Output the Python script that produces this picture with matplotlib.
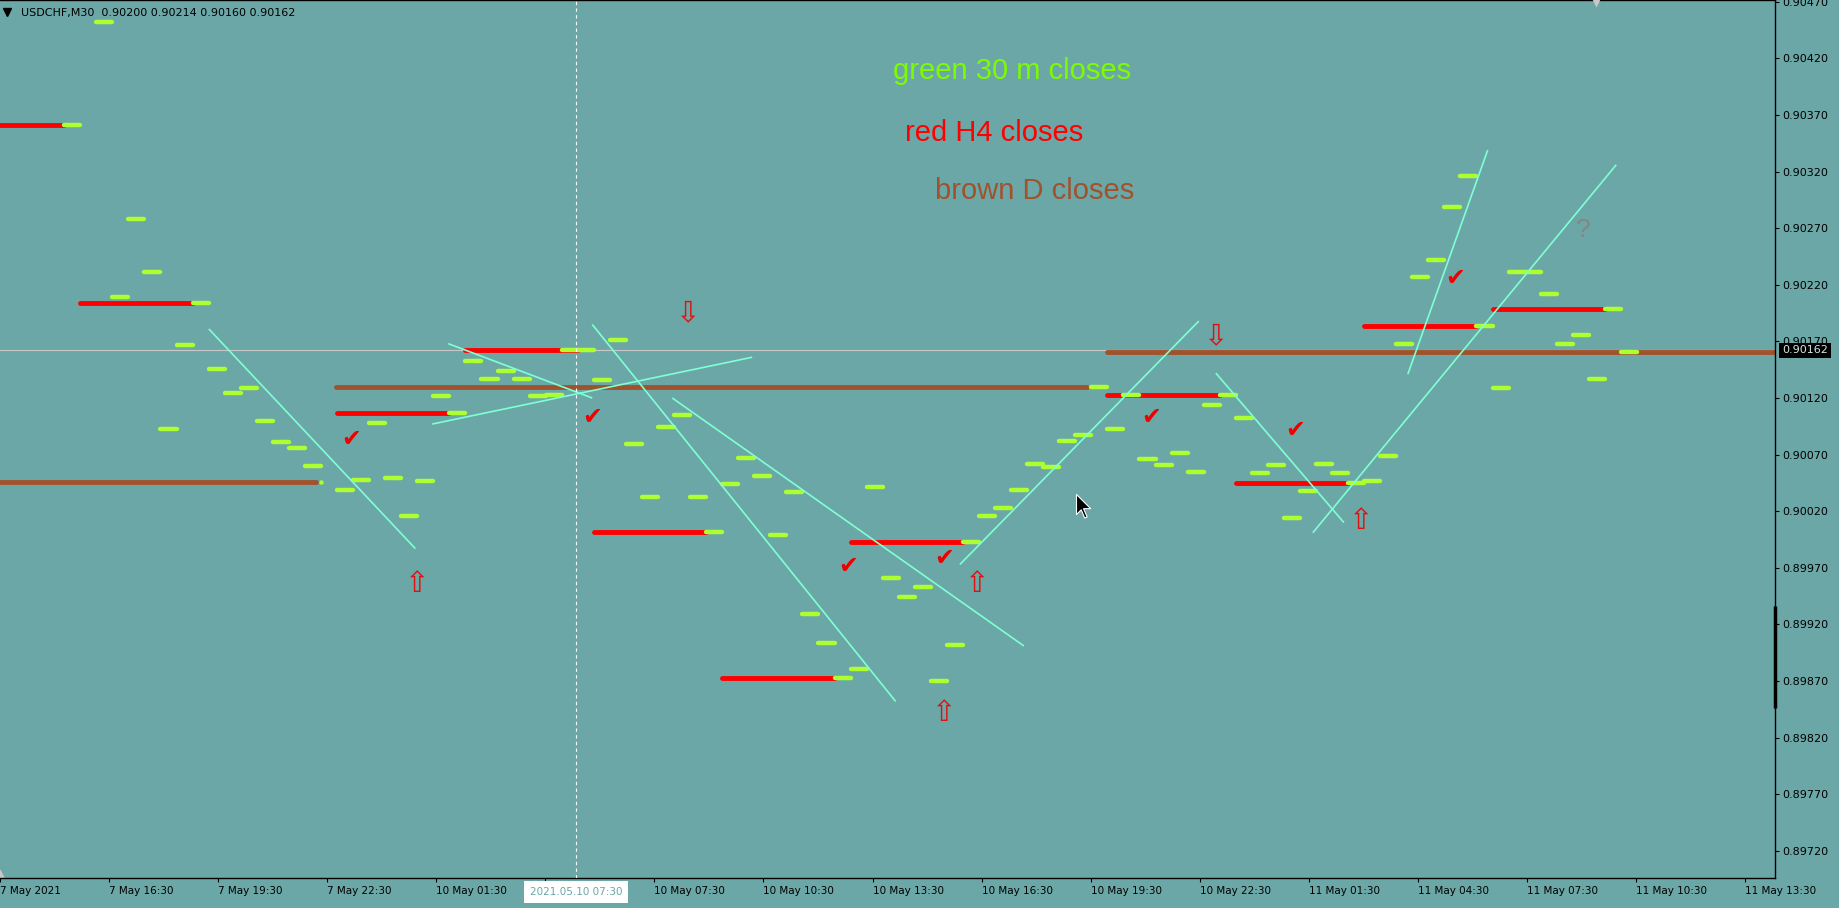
import numpy as np
import matplotlib.pyplot as plt
from matplotlib.collections import LineCollection
from matplotlib.path import Path

# ---- data (x = M30 bar slot, y = price) ----
m30_idx = [4, 6, 7, 8, 9, 10, 11, 12, 13, 14, 15, 16, 17, 18, 19,
           21, 22, 23, 24, 25, 26, 27, 28, 29, 30, 31, 32, 33, 34, 35, 36,
           37, 38, 39, 40, 41, 42, 43, 44, 45, 46, 47, 48, 49, 50, 51, 52,
           53, 54, 55, 56, 57, 58, 59, 60, 61, 62, 63, 64, 65, 66, 67, 68,
           69, 70, 71, 72, 73, 74, 75, 76, 77, 78, 79, 80, 81, 82, 83, 84,
           85, 86, 87, 88, 89, 90, 91, 92, 93, 94, 95, 96, 97, 98, 99, 100, 101]
m30_close = [0.90361, 0.90452, 0.90209, 0.90278, 0.90231, 0.90093, 0.90167, 0.90204,
             0.90146, 0.90124, 0.90129, 0.90100, 0.90081, 0.90076, 0.90060,
             0.90039, 0.90048, 0.90098, 0.90049, 0.90016, 0.90047, 0.90122, 0.90107,
             0.90153, 0.90137, 0.90144, 0.90137, 0.90122, 0.90123, 0.90162, 0.90162,
             0.90136, 0.90171, 0.90079, 0.90033, 0.90094, 0.90105, 0.90033, 0.90002,
             0.90044, 0.90067, 0.90051, 0.89999, 0.90037, 0.89929, 0.89904, 0.89873,
             0.89881, 0.90041, 0.89961, 0.89944, 0.89953, 0.89870, 0.89902, 0.89993,
             0.90016, 0.90023, 0.90039, 0.90062, 0.90059, 0.90082, 0.90087, 0.90130,
             0.90093, 0.90123, 0.90066, 0.90061, 0.90071, 0.90055, 0.90114, 0.90123,
             0.90102, 0.90054, 0.90061, 0.90014, 0.90038, 0.90062, 0.90054, 0.90045,
             0.90047, 0.90069, 0.90168, 0.90227, 0.90242, 0.90289, 0.90316, 0.90184,
             0.90129, 0.90231, 0.90231, 0.90212, 0.90168, 0.90176, 0.90137, 0.90199, 0.90161]

h4_idx = [4, 12, 28, 36, 44, 52, 60, 76, 84, 92, 100]
h4_close = [0.90361, 0.90204, 0.90107, 0.90162, 0.90002, 0.89873, 0.89993,
            0.90123, 0.90045, 0.90184, 0.90199]

d_idx = [20, 68]
d_close = [0.90046, 0.90130]
d_today = 0.90161
bid = 0.90162

# hand drawn trend lines (x0, p0, x1, p1)
trend_lines = [
    (13.01, 0.90181, 25.88, 0.89987),
    (27.93, 0.90168, 36.90, 0.90120),
    (26.93, 0.90097, 46.87, 0.90156),
    (36.90, 0.90185, 55.81, 0.89852),
    (41.89, 0.90120, 63.80, 0.89901),
    (59.81, 0.89973, 74.70, 0.90188),
    (75.76, 0.90142, 83.74, 0.90010),
    (81.80, 0.90001, 100.71, 0.90326),
    (87.72, 0.90141, 92.70, 0.90339),
]

up_x = [25.92, 60.80, 58.80, 84.74]
up_y = [0.89956, 0.89956, 0.89842, 0.90011]
down_x = [42.82, 75.72]
down_y = [0.90195, 0.90175]
check_x = [21.91, 36.87, 52.83, 58.80, 71.74, 80.73, 90.69]
check_y = [0.90084, 0.90103, 0.89972, 0.89979, 0.90103, 0.90092, 0.90226]

time_labels = ['7 May 2021', '7 May 16:30', '7 May 19:30', '7 May 22:30', '10 May 01:30',
               '', '10 May 07:30', '10 May 10:30', '10 May 13:30', '10 May 16:30',
               '10 May 19:30', '10 May 22:30', '11 May 01:30', '11 May 04:30',
               '11 May 07:30', '11 May 10:30', '11 May 13:30']
label_step = 6.796
price_ticks = np.arange(0.89720, 0.904701, 0.0005)

BG = '#6ca7a7'
XMAX = 110.6
YMIN, YMAX = 0.896961, 0.904715

fig = plt.figure(figsize=(18.4, 9.08), dpi=100, facecolor=BG)
ax = fig.add_axes([0, 30 / 908, 1775 / 1840, 878 / 908])
ax.set_facecolor(BG)
ax.set_xlim(0, XMAX)
ax.set_ylim(YMIN, YMAX)

# bid line
ax.axhline(bid, color='#c8c8c8', lw=0.8, zorder=1)

# daily closes
starts = [-2] + [i + 0.95 for i in d_idx]
ends = [i - 0.3 for i in d_idx] + [XMAX + 2]
vals = d_close + [d_today]
d_segs = [[(s, v), (e, v)] for s, e, v in zip(starts, ends, vals)]
ax.add_collection(LineCollection(d_segs, colors='#a0522d', linewidths=3.5,
                                 capstyle='round', zorder=2))

# H4 closes
h4_segs = [[(i - 7, c), (i, c)] for i, c in zip(h4_idx, h4_close)]
ax.add_collection(LineCollection(h4_segs, colors='#ff0000', linewidths=3.5,
                                 capstyle='round', zorder=2.2))

# M30 closes
m_segs = [[(i, c), (i + 1, c)] for i, c in zip(m30_idx, m30_close)]
ax.add_collection(LineCollection(m_segs, colors='#adff2f', linewidths=3.2,
                                 capstyle='round', zorder=3))
dot_x = [i for i in d_idx if i not in m30_idx]
dot_y = [c for i, c in zip(d_idx, d_close) if i not in m30_idx]
ax.plot(dot_x, dot_y, 'o', color='#adff2f', ms=3.2, mec='none', zorder=3)

# trend lines
tl = [[(a, b), (c, d)] for a, b, c, d in trend_lines]
ax.add_collection(LineCollection(tl, colors='#7fffd4', linewidths=1.2, zorder=4))

# arrows and ticks
for x, y in zip(up_x, up_y):
    ax.text(x, y, '\u21e7', color='#e01010', fontsize=21, ha='center', va='center', zorder=5)
for x, y in zip(down_x, down_y):
    ax.text(x, y, '\u21e9', color='#e01010', fontsize=21, ha='center', va='center', zorder=5)
for x, y in zip(check_x, check_y):
    ax.text(x, y, '\u2714', color='#ee0000', fontsize=17, ha='center', va='center', zorder=5)
ax.text(98.68, 0.90268, '?', color='#858585', fontsize=19, ha='center', va='center',
        family='Liberation Sans', zorder=5)

# labels
ax.text(55.63, 0.90402, 'green 30 m closes', color='#7cfc00', fontsize=21,
        family='Liberation Sans', va='baseline', zorder=5)
ax.text(56.39, 0.90347, 'red H4 closes', color='#ff0000', fontsize=21,
        family='Liberation Sans', va='baseline', zorder=5)
ax.text(58.25, 0.90296, 'brown D closes', color='#a0522d', fontsize=21,
        family='Liberation Sans', va='baseline', zorder=5)

# header
ax.plot(7.5 / 1775, 1 - 11.5 / 878, marker='v', ms=6, color='black',
        transform=ax.transAxes, clip_on=False)
ax.text(20.7 / 1775, 1 - 16 / 878, 'USDCHF,M30  0.90200 0.90214 0.90160 0.90162',
        transform=ax.transAxes, fontsize=8, color='black', va='baseline')

# crosshair
cross_x = 35.89
ax.axvline(cross_x, color='white', lw=0.8, ls=(0, (3, 3)), zorder=6)
ax.annotate('2021.05.10 07:30', xy=(cross_x, 0), xycoords=('data', 'axes fraction'),
            xytext=(0, -14), textcoords='offset pixels', ha='center', va='center',
            fontsize=7.5, color='#6aa6a6', annotation_clip=False, zorder=7,
            bbox=dict(boxstyle='square,pad=0.55', fc='white', ec='none'))

# mouse pointer
cursor = Path([(0, 0), (0, -17), (4, -13), (7, -20), (9, -19), (6, -12), (12, -12), (0, 0)],
              [Path.MOVETO] + [Path.LINETO] * 6 + [Path.CLOSEPOLY])
ax.plot(67.02, 0.90035, marker=cursor, ms=34, color='black', mec='white', mew=0.8, zorder=8)

# small chart markers
ax.plot(1596.5 / 1775, 1 - 2 / 878, marker='v', ms=7, color='#c8c8c8', mec='none',
        transform=ax.transAxes, clip_on=False, zorder=8)
ax.plot(0.0, 5 / 878, marker='^', ms=6, color='#c8c8c8', mec='none',
        transform=ax.transAxes, clip_on=False, zorder=8)

# right scale marker
ax.plot([XMAX, XMAX], [0.89846, 0.89936], color='black', lw=2.5, clip_on=False,
        solid_capstyle='butt', zorder=8)

# axes styling
ax.spines['left'].set_visible(False)
for s in ['top', 'right', 'bottom']:
    ax.spines[s].set_color('black')
    ax.spines[s].set_linewidth(1.0)

ax.yaxis.tick_right()
ax.set_yticks(price_ticks)
ax.set_yticklabels(['%.5f' % p for p in price_ticks])
ax.tick_params(axis='y', direction='out', length=3, width=0.8, pad=2.5,
               labelsize=8, colors='black')

ax.set_xticks([label_step * k for k in range(len(time_labels))])
ax.set_xticklabels(time_labels)
ax.tick_params(axis='x', direction='out', length=3, width=0.8, pad=2.5,
               labelsize=7.5, colors='black')
for lab in ax.get_xticklabels():
    lab.set_ha('left')

ax.annotate('0.90162', xy=(1, bid), xycoords=('axes fraction', 'data'),
            xytext=(7, 0), textcoords='offset pixels', ha='left', va='center',
            fontsize=8, color='#d8e4e4', annotation_clip=False, zorder=9,
            bbox=dict(boxstyle='square,pad=0.25', fc='black', ec='none'))

fig.savefig('out.png', dpi=100, facecolor=BG)
